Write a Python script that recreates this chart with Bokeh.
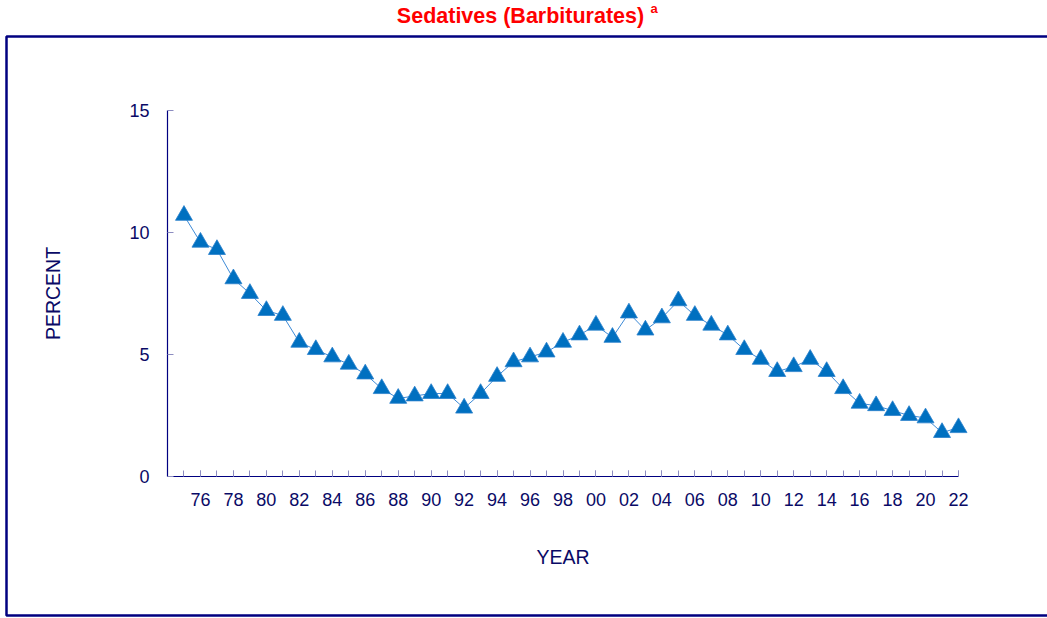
from bokeh.plotting import figure
from bokeh.models import (ColumnDataSource, FixedTicker, CustomJSTickFormatter,
                          Label, BoxAnnotation, Range1d)
from bokeh.embed import file_html
from bokeh.resources import INLINE

years = list(range(1975, 2023))
percent = [10.7, 9.6, 9.3, 8.1, 7.5, 6.8, 6.6, 5.5, 5.2, 4.9,
           4.6, 4.2, 3.6, 3.2, 3.3, 3.4, 3.4, 2.8, 3.4, 4.1,
           4.7, 4.9, 5.1, 5.5, 5.8, 6.2, 5.7, 6.7, 6.0, 6.5,
           7.2, 6.6, 6.2, 5.8, 5.2, 4.8, 4.3, 4.5, 4.8, 4.3,
           3.6, 3.0, 2.9, 2.7, 2.5, 2.4, 1.8, 2.0]
major_years = list(range(1976, 2023, 2))
minor_years = list(range(1974, 2023))
y_ticks = [0, 5, 10, 15]
x_bounds = (1974, 2022)
y_bounds = (0, 15)
title_text = "Sedatives (Barbiturates)"
title_sup = "a"
x_label = "YEAR"
y_label = "PERCENT"

FONT = "Liberation Sans"
NAVY = "#000080"
TXT = "#0a0a66"
TICK = "#8c8cc0"

W, H = 1047, 618
# pixel placement of the axes box (from top-left of the canvas)
AX_L, AX_R, AX_T, AX_B = 167, 958, 110, 476
sx = (AX_R - AX_L) / (x_bounds[1] - x_bounds[0])
sy = (AX_B - AX_T) / (y_bounds[1] - y_bounds[0])
x_range = Range1d(x_bounds[0] - AX_L / sx, x_bounds[1] + (W - AX_R) / sx)
y_range = Range1d(y_bounds[0] - (H - AX_B) / sy, y_bounds[1] + AX_T / sy)

src = ColumnDataSource(dict(year=years, pct=percent))

p = figure(width=W, height=H, output_backend="svg", toolbar_location=None,
           x_range=x_range, y_range=y_range, min_border=0)
p.outline_line_color = None
p.grid.grid_line_color = None
p.background_fill_color = "white"
p.border_fill_color = "white"

# outer frame border
p.add_layout(BoxAnnotation(left=6, right=1060, top=H - 36, bottom=H - 615,
                           left_units="screen", right_units="screen",
                           top_units="screen", bottom_units="screen",
                           fill_alpha=0, line_color=NAVY, line_alpha=1.0,
                           line_width=2.5))

p.line("year", "pct", source=src, line_color="#3d8ad6", line_width=1)
p.scatter("year", "pct", source=src, marker="triangle", size=17,
          fill_color="#0070C0", line_color="#2a80cc", line_width=0.8)

xa = p.xaxis[0]
xa.fixed_location = y_bounds[0]
xa.bounds = x_bounds
xa.ticker = FixedTicker(ticks=major_years, minor_ticks=minor_years)
xa.formatter = CustomJSTickFormatter(code="return String(tick % 100).padStart(2, '0');")
ya = p.yaxis[0]
ya.fixed_location = x_bounds[0]
ya.bounds = y_bounds
ya.ticker = FixedTicker(ticks=y_ticks, minor_ticks=[])

for ax in (xa, ya):
    ax.axis_line_color = NAVY
    ax.axis_line_width = 1.2
    ax.major_tick_line_color = TICK
    ax.minor_tick_line_color = TICK
    ax.major_tick_in = 6
    ax.major_tick_out = 0
    ax.minor_tick_in = 6
    ax.minor_tick_out = 0
    ax.major_label_text_font = FONT
    ax.major_label_text_font_size = "18px"
    ax.major_label_text_color = TXT
    ax.axis_label_text_font = FONT
    ax.axis_label_text_font_size = "19.5px"
    ax.axis_label_text_font_style = "normal"
    ax.axis_label_text_color = TXT

xa.axis_label = x_label
xa.major_label_standoff = 16
xa.axis_label_standoff = 37
ya.axis_label = y_label
ya.major_label_standoff = 18
ya.axis_label_standoff = 62

p.add_layout(Label(x=520, y=H - 27, x_units="screen", y_units="screen",
                   text=title_text, text_align="center", text_font=FONT,
                   text_font_size="21.5px", text_font_style="bold",
                   text_color="#FF0000"))
p.add_layout(Label(x=650, y=H - 15, x_units="screen", y_units="screen",
                   text=title_sup, text_align="left", text_font=FONT,
                   text_font_size="13px", text_font_style="bold",
                   text_color="#FF0000"))

open("out.html", "w").write(file_html(p, INLINE))
